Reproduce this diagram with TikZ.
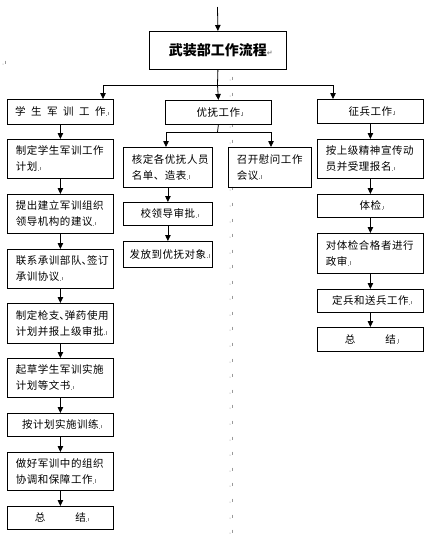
\documentclass[tikz,border=0pt]{standalone}
\usepackage{fontspec}
\newfontfamily\cjk[LetterSpace=5]{Noto Sans CJK SC}
\newfontfamily\cjkt{Noto Sans CJK SC}
\newfontfamily\dejavu{DejaVu Sans}
\usetikzlibrary{arrows.meta}
\newcommand\pmk{\rlap{\hspace{0.6pt}{\color{black!45}\rule{0.9pt}{0.9pt}\hspace{0.8pt}\rule[0.6pt]{0.45pt}{3.6pt}}}}
\newcommand\dn{\makebox[5.5pt][l]{、}}
\tikzset{
  box/.style={draw, line width=0.8pt, anchor=north west, inner ysep=0pt,
    font=\cjk\fontsize{10.5}{16}\selectfont},
  two/.style={box, align=left, inner xsep=8.5pt},
  one/.style={box, align=center, inner xsep=2pt},
  arr/.style={line width=0.8pt, -{Triangle[length=6pt,width=5.5pt]}},
  ln/.style={line width=0.8pt},
  pm/.style={black!40, line width=0.45pt}
}
\begin{document}
\begin{tikzpicture}[x=1pt,y=-1pt]
\useasboundingbox[fill=white] (0,0) rectangle (433,538);

% paragraph-mark column
\foreach \yy in {80,96,127,143,190,206,222,237,253,268,284,299,315,330,346,362,377,393,408,424,440,455,471,486,502,518,533}{
  \fill[black!40] (230,\yy) circle (0.5);
  \draw[pm] (232.5,\yy-3.5) -- (232.5,\yy);
}
\fill[black!40] (3,64) circle (0.5);
\draw[pm] (5.5,60.5) -- (5.5,64);

% title
\node[draw, line width=0.8pt, anchor=north west, minimum width=137pt, minimum height=38pt, inner sep=0pt,
  font=\cjkt\bfseries\fontsize{14}{16}\selectfont] (title) at (149,31)
  {\hspace{6pt}武装部工作流程{\dejavu\fontsize{7}{7}\selectfont\color{black!50}↵}};
\coordinate (top) at (217.5,7);
\draw[arr] (top) -- (title.north);

% level 1
\node[one, text width=102pt, minimum height=25pt] (l0) at (7,99)
  {学\hspace{5.5pt}生\hspace{5.5pt}军\hspace{5.5pt}训\hspace{5.5pt}工\hspace{5.5pt}作\pmk};
\node[one, text width=102pt, minimum height=24pt] (m0) at (165,100) {优抚工作\pmk};
\node[one, text width=102pt, minimum height=24pt] (r0) at (317,99) {征兵工作\pmk};

\coordinate (jc) at (217.5,85);
\coordinate (jl) at (103,85);
\coordinate (jr) at (333,85);
\draw[ln] (title.south) -- (jc);
\draw[ln] (jl) -- (jr);
\draw[arr] (jc) -- (m0.north);
\draw[arr] (jl) -- (jl |- l0.north);
\draw[arr] (jr) -- (jr |- r0.north);

% left column
\node[two, text width=89pt, minimum height=39pt] (l1) at (7,139) {制定学生军训工作\\计划\pmk};
\node[two, text width=89pt, minimum height=39pt] (l2) at (7,194) {提出建立军训组织\\领导机构的建议\pmk};
\node[two, text width=89pt, minimum height=39pt] (l3) at (7,249) {联系承训部队\dn 签订\\承训协议\pmk};
\node[two, text width=89pt, minimum height=40pt] (l4) at (7,303) {制定枪支\dn 弹药使用\\计划并报上级审批\pmk};
\node[two, text width=89pt, minimum height=39pt] (l5) at (7,358) {起草学生军训实施\\计划等文书\pmk};
\node[one, text width=102pt, minimum height=23pt] (l6) at (7,413) {按计划实施训练\pmk};
\node[two, text width=89pt, minimum height=38pt] (l7) at (7,452) {做好军训中的组织\\协调和保障工作\pmk};
\node[one, text width=102pt, minimum height=23pt] (l8) at (7,506) {总\hspace{30pt}结\pmk};
\foreach \a/\b in {l0/l1,l1/l2,l2/l3,l3/l4,l4/l5,l5/l6,l6/l7,l7/l8}
  \draw[arr] (\a.south) -- (\b.north);

% middle column
\node[two, text width=72pt, minimum height=40pt] (ma) at (123,147) {核定各优抚人员\\名单、造表\pmk};
\node[two, text width=66pt, minimum height=40pt] (mb) at (228,147) {召开慰问工作\\会议\pmk};
\node[one, text width=85pt, minimum height=23pt] (mc) at (123,202) {校领导审批\pmk};
\node[one, text width=85pt, minimum height=26pt] (md) at (123,241) {发放到优抚对象\pmk};
\coordinate (mj) at (217.5,132);
\coordinate (mjl) at (166,132);
\coordinate (mjr) at (271,132);
\draw[ln] (m0.south) -- (mj);
\draw[ln] (mjl) -- (mjr);
\draw[arr] (mjl) -- (mjl |- ma.north);
\draw[arr] (mjr) -- (mjr |- mb.north);
\draw[arr] (ma.south) -- (mc.north);
\draw[arr] (mc.south) -- (md.north);

% right column
\node[two, text width=89pt, minimum height=39pt] (r1) at (317,139) {按上级精神宣传动\\员并受理报名\pmk};
\node[one, text width=102pt, minimum height=23pt] (r2) at (317,194) {体检\pmk};
\node[two, text width=89pt, minimum height=40pt] (r3) at (317,233) {对体检合格者进行\\政审\pmk};
\node[one, text width=102pt, minimum height=23pt] (r4) at (317,289) {定兵和送兵工作\pmk};
\node[one, text width=102pt, minimum height=24pt] (r5) at (317,327) {总\hspace{30pt}结\pmk};
\foreach \a/\b in {r0/r1,r1/r2,r2/r3,r3/r4,r4/r5}
  \draw[arr] (\a.south) -- (\b.north);
\end{tikzpicture}
\end{document}
